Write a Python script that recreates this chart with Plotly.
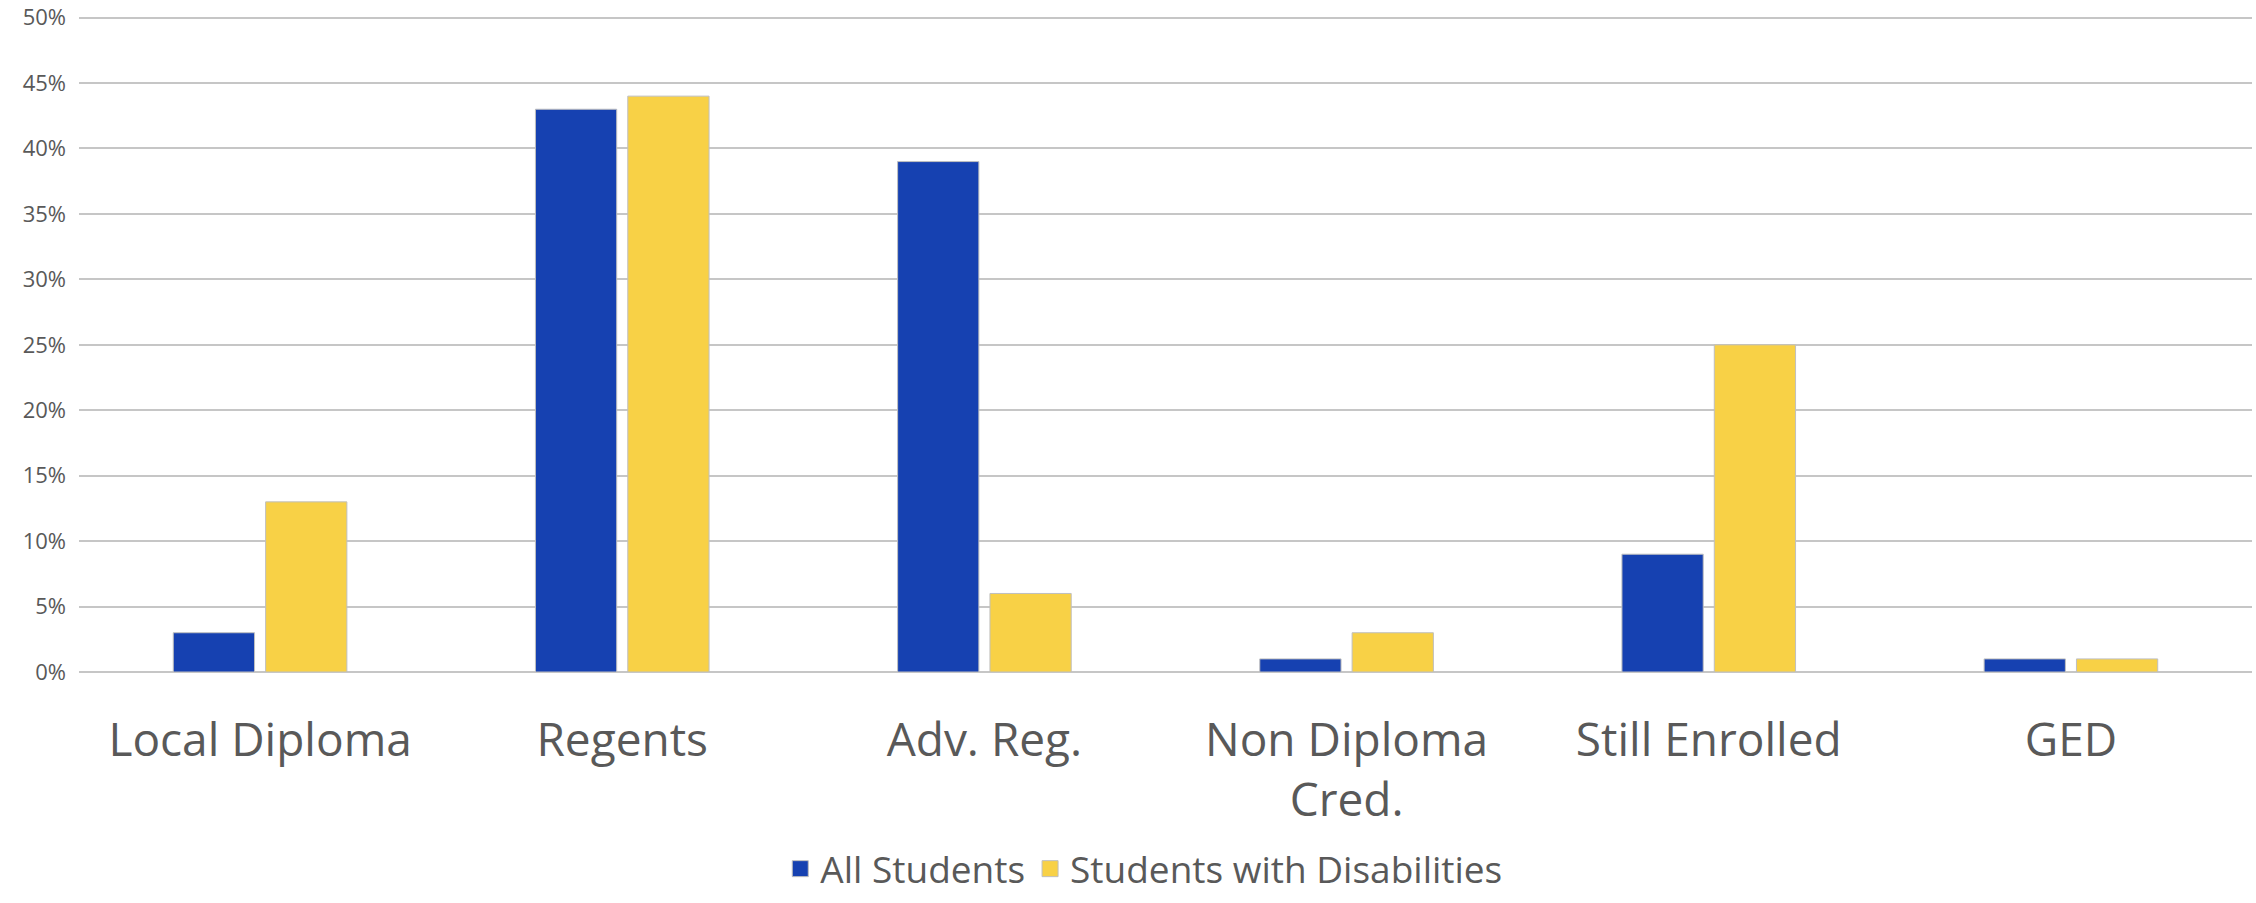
import plotly.graph_objects as go

categories = ["Local Diploma", "Regents", "Adv. Reg.", "Non Diploma<br>Cred.", "Still Enrolled", "GED"]
all_students = [3, 43, 39, 1, 9, 1]
students_disabilities = [13, 44, 6, 3, 25, 1]
series_names = ["All Students", "Students with Disabilities"]
series_colors = ["#1641B1", "#F8D146"]
y_ticks = [0, 5, 10, 15, 20, 25, 30, 35, 40, 45, 50]
y_tick_labels = [f"{v}%" for v in y_ticks]

fig = go.Figure()
for name, vals, col in zip(series_names, [all_students, students_disabilities], series_colors):
    fig.add_trace(go.Bar(name=name, x=categories, y=vals, showlegend=False,
                         marker=dict(color=col, line=dict(color="#BFBFBF", width=1))))
# legend entries with larger square swatches
for name, col in zip(series_names, series_colors):
    fig.add_trace(go.Scatter(name=name, x=[categories[0]], y=[None], mode="markers",
                             marker=dict(symbol="square", size=16, color=col,
                                         line=dict(color="#BFBFBF", width=1)),
                             hoverinfo="skip"))

fig.update_layout(
    width=2256, height=903,
    margin=dict(l=79, r=4, t=15, b=231, autoexpand=False),
    paper_bgcolor="white", plot_bgcolor="white",
    barmode="group", bargap=0.49, bargroupgap=0.12,
    font=dict(family="Open Sans", color="#595959"),
    legend=dict(orientation="h", x=0.49, xanchor="center", y=-0.30, yanchor="middle",
                font=dict(size=37, color="#595959"), itemsizing="trace", tracegroupgap=0),
    xaxis=dict(tickfont=dict(size=46, color="#595959"), showgrid=False, showline=False,
               ticks="", ticklabelstandoff=37, automargin=False),
    yaxis=dict(range=[0, 50.2], tickvals=y_ticks, ticktext=y_tick_labels,
               tickfont=dict(size=22, color="#595959"),
               showgrid=True, gridcolor="#C6C6C6", gridwidth=2,
               zeroline=True, zerolinecolor="#C6C6C6", zerolinewidth=2,
               showline=False, ticks="", ticklabelstandoff=12, automargin=False),
)

fig.write_html("out.html", config={"displayModeBar": False},
               post_script="document.body.style.margin='0';document.body.style.overflow='hidden';")
